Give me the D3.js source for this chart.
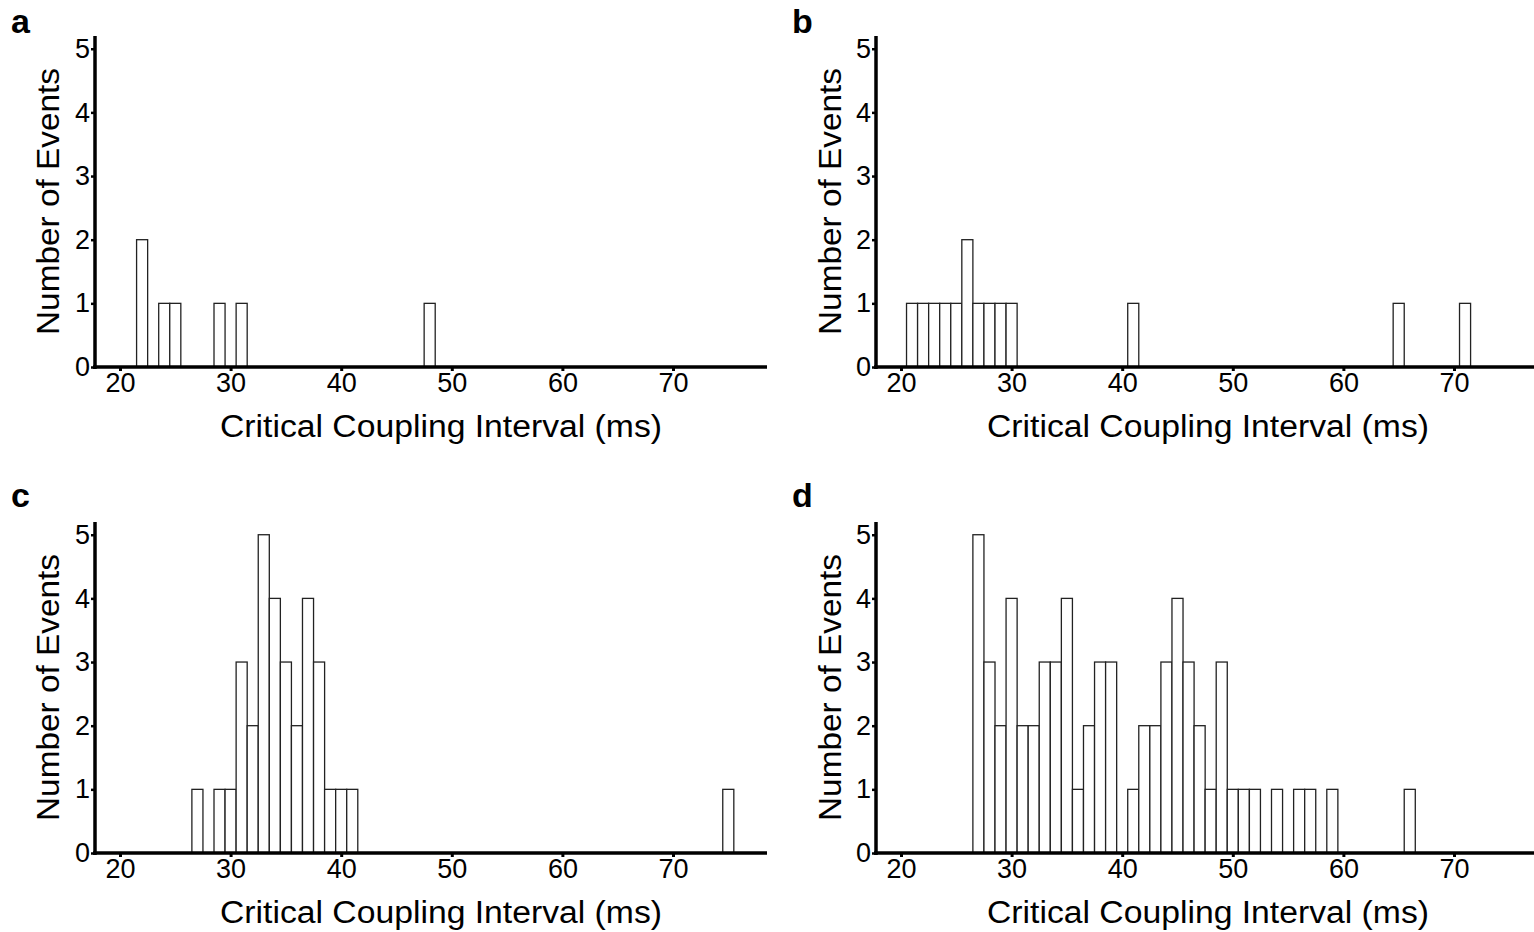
<!DOCTYPE html>
<html>
<head>
<meta charset="utf-8">
<script src="https://cdn.jsdelivr.net/npm/d3@7"></script>
<style>
  body { margin: 0; background: #fff; }
  text { font-family: "Liberation Sans", Arial, sans-serif; fill: #000; }
</style>
</head>
<body>
<script>
// Counts per 1 ms bin (bin centred on the integer value)
var binsA = [22, 24, 25, 29, 31, 48];
var countsA = [2, 1, 1, 1, 1, 1];

var binsB = [21, 22, 23, 24, 25, 26, 27, 28, 29, 30, 41, 65, 71];
var countsB = [1, 1, 1, 1, 1, 2, 1, 1, 1, 1, 1, 1, 1];

var binsC = [27, 29, 30, 31, 32, 33, 34, 35, 36, 37, 38, 39, 40, 41, 75];
var countsC = [1, 1, 1, 3, 2, 5, 4, 3, 2, 4, 3, 1, 1, 1, 1];

var binsD = [27, 28, 29, 30, 31, 32, 33, 34, 35, 36, 37, 38, 39, 41, 42, 43, 44, 45, 46, 47, 48, 49, 50, 51, 52, 54, 56, 57, 59, 66];
var countsD = [5, 3, 2, 4, 2, 2, 3, 3, 4, 1, 2, 3, 3, 1, 2, 2, 3, 4, 3, 2, 1, 3, 1, 1, 1, 1, 1, 1, 1, 1];

var xTicks = [20, 30, 40, 50, 60, 70];
var yTicks = [0, 1, 2, 3, 4, 5];
var xLabel = "Critical Coupling Interval (ms)";
var yLabel = "Number of Events";

var svg = d3.select("body").append("svg")
  .attr("width", 1534)
  .attr("height", 932);

// panel layout: axes origin, title offsets, letter position
var panels = [
  { letter: "a", bins: binsA, counts: countsA, x0: 95, y0: 367, tx: 346, ty: -36, ly: 33 },
  { letter: "b", bins: binsB, counts: countsB, x0: 876, y0: 367, tx: 332, ty: -35, ly: 33 },
  { letter: "c", bins: binsC, counts: countsC, x0: 95, y0: 853, tx: 346, ty: -36, ly: 507 },
  { letter: "d", bins: binsD, counts: countsD, x0: 876, y0: 853, tx: 332, ty: -35, ly: 507 }
];

var plotW = 672, plotH = 331;

var x = d3.scaleLinear().domain([17.74, 78.5]).range([0, plotW]);
var y = d3.scaleLinear().domain([0, 5.2]).range([plotH, 0]);

panels.forEach(function(p) {
  var g = svg.append("g")
    .attr("transform", "translate(" + p.x0 + "," + (p.y0 - plotH) + ")");

  var data = p.bins.map(function(b, i) { return { v: b, n: p.counts[i] }; });

  // bars
  g.selectAll("rect.bar")
    .data(data)
    .enter()
    .append("rect")
    .attr("class", "bar")
    .attr("x", function(d) { return x(d.v - 0.5); })
    .attr("y", function(d) { return y(d.n); })
    .attr("width", function(d) { return x(d.v + 0.5) - x(d.v - 0.5); })
    .attr("height", function(d) { return y(0) - y(d.n); })
    .attr("fill", "#fff")
    .attr("stroke", "#222")
    .attr("stroke-width", 1.3);

  // x axis
  var xa = g.append("g")
    .attr("transform", "translate(0," + plotH + ")")
    .call(d3.axisBottom(x).tickValues(xTicks).tickSize(4).tickSizeOuter(0).tickPadding(2));
  xa.select(".domain").attr("stroke-width", 3.5).attr("d", "M-2,0H" + plotW);
  xa.selectAll(".tick line").attr("stroke-width", 3);
  xa.selectAll(".tick text").style("font-size", "27px").attr("fill", "#000");

  // y axis
  var ya = g.append("g")
    .call(d3.axisLeft(y).tickValues(yTicks).tickFormat(d3.format("d")).tickSize(4).tickSizeOuter(0).tickPadding(1));
  ya.select(".domain").attr("stroke-width", 3.5).attr("d", "M0,0V" + (plotH + 2));
  ya.selectAll(".tick line").attr("stroke-width", 2.5);
  ya.selectAll(".tick text").style("font-size", "27px").attr("fill", "#000");

  // axis titles
  g.append("text")
    .attr("x", p.tx)
    .attr("y", plotH + 70)
    .attr("text-anchor", "middle")
    .attr("textLength", 442)
    .attr("lengthAdjust", "spacingAndGlyphs")
    .style("font-size", "31px")
    .text(xLabel);

  g.append("text")
    .attr("transform", "translate(" + p.ty + "," + (plotH / 2) + ") rotate(-90)")
    .attr("text-anchor", "middle")
    .attr("textLength", 267)
    .attr("lengthAdjust", "spacingAndGlyphs")
    .style("font-size", "31px")
    .text(yLabel);

  // panel letter
  svg.append("text")
    .attr("x", p.x0 - 84)
    .attr("y", p.ly)
    .style("font-size", "34px")
    .style("font-weight", "bold")
    .text(p.letter);
});
</script>
</body>
</html>
